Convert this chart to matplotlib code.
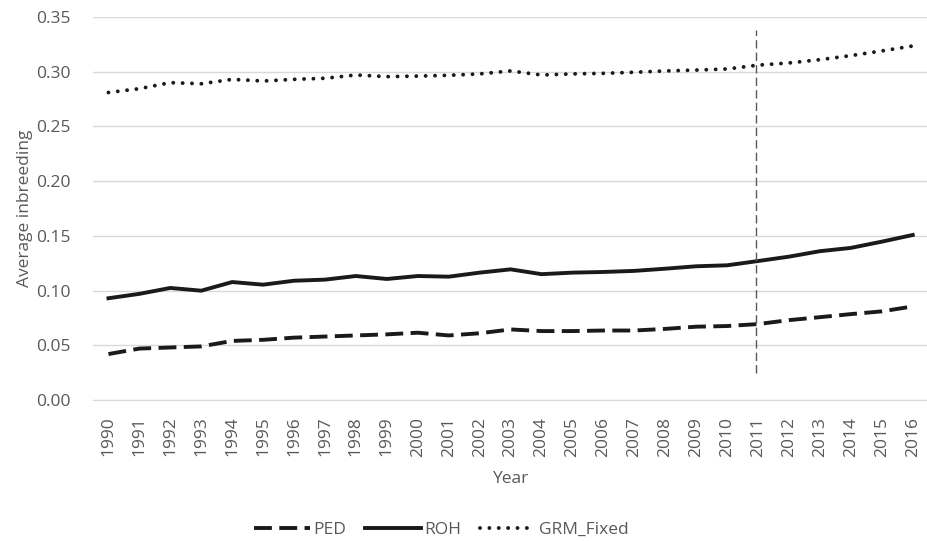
import matplotlib
matplotlib.use('Agg')
import matplotlib.pyplot as plt

plt.rcParams['font.family'] = ['Open Sans', 'DejaVu Sans']

# Average inbreeding per birth year
years = list(range(1990, 2017))
ped = [0.042, 0.047, 0.048, 0.049, 0.054, 0.055, 0.057, 0.058, 0.059, 0.060,
       0.0615, 0.059, 0.061, 0.0645, 0.063, 0.063, 0.0635, 0.0635, 0.065, 0.067,
       0.0676, 0.0694, 0.073, 0.0757, 0.0785, 0.081, 0.0855]
roh = [0.093, 0.097, 0.1024, 0.0999, 0.1078, 0.1054, 0.109, 0.110, 0.1133, 0.1106,
       0.1133, 0.1127, 0.1164, 0.1194, 0.115, 0.1164, 0.117, 0.118, 0.120, 0.1222,
       0.1231, 0.127, 0.131, 0.136, 0.139, 0.1447, 0.1508]
grm = [0.281, 0.2845, 0.290, 0.289, 0.293, 0.2915, 0.293, 0.294, 0.297, 0.2955,
       0.296, 0.2967, 0.298, 0.3007, 0.297, 0.298, 0.2985, 0.2995, 0.3007, 0.3015,
       0.3025, 0.306, 0.308, 0.311, 0.3147, 0.319, 0.3235]
yticks = [0.00, 0.05, 0.10, 0.15, 0.20, 0.25, 0.30, 0.35]
cutoff_year = 2011

txt = '#595959'
fs = 12.5
fig = plt.figure(figsize=(9.28, 5.41), dpi=100)
ax = fig.add_axes([0.1002, 0.2606, 0.900, 0.708])

x = list(range(len(years)))
lw = 2.8
ax.plot(x, ped, color='#1a1a1a', lw=lw, dashes=(4.6, 1.9), label='PED')
ax.plot(x, roh, color='#1a1a1a', lw=lw, label='ROH')
ax.plot(x, grm, color='#1a1a1a', lw=lw, dashes=(0.01, 2.4),
        dash_capstyle='round', label='GRM_Fixed')

# selection cut-off marker
xc = years.index(cutoff_year) - 0.08
ax.plot([xc, xc], [0.025, 0.338], color='#595959', lw=1.0, dashes=(6, 3))

ax.set_xlim(-0.5, len(years) - 0.5)
ax.set_ylim(0, 0.35)
ax.set_yticks(yticks)
ax.set_yticklabels([f'{v:.2f}' for v in yticks])
ax.set_xticks(x)
ax.set_xticklabels([str(y) for y in years], rotation=90)
ax.grid(axis='y', color='#d9d9d9', lw=1.0)
ax.set_axisbelow(True)
for s in ['top', 'right', 'left']:
    ax.spines[s].set_visible(False)
ax.spines['bottom'].set_color('#d9d9d9')
ax.tick_params(length=0, labelsize=fs, labelcolor=txt)
ax.tick_params(axis='x', pad=12)
ax.tick_params(axis='y', pad=16)

ax.set_ylabel('Average inbreeding', fontsize=fs, color=txt, labelpad=2)
ax.set_xlabel('Year', fontsize=fs, color=txt, labelpad=10)

fig.legend(loc='center', bbox_to_anchor=(0.476, 0.02), ncol=3, frameon=False,
           fontsize=fs, labelcolor=txt, handlelength=3.2, columnspacing=1.1,
           handletextpad=0.2)

fig.savefig('out.png', dpi=100)
